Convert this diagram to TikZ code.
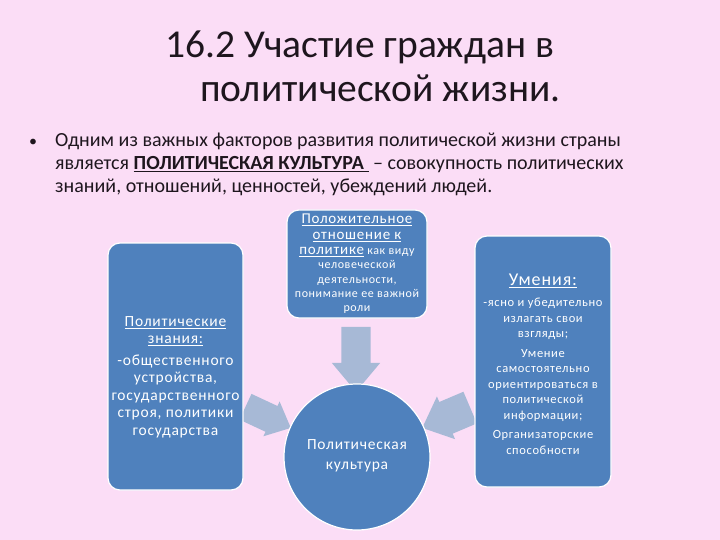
\documentclass[tikz,border=0pt]{standalone}
\usepackage{fontspec}
\setmainfont{Carlito}
\usetikzlibrary{shapes.arrows}
\definecolor{slidepink}{RGB}{251,221,246}
\definecolor{boxblue}{RGB}{79,129,189}
\definecolor{arrowgray}{RGB}{167,185,214}
\definecolor{titleink}{RGB}{30,22,30}
\tikzstyle{bluebox}=[draw=white, line width=1.2pt, fill=boxblue, rounded corners=12pt, inner sep=0pt]
\tikzstyle{boxtext}=[white, align=center, inner sep=0pt]
\tikzstyle{fatarrow}=[single arrow, fill=arrowgray, draw=none, inner xsep=0pt]
\tikzstyle{slideline}=[anchor=base west, inner sep=0pt, titleink]

\begin{document}
\begin{tikzpicture}[x=1pt, y=-1pt]
% Slide
	\fill[slidepink] (0,0) rectangle (720,540);
	\useasboundingbox (0,0) rectangle (720,540);
% Title
	\node[slideline, font=\fontsize{39.5}{44}\selectfont] (title1) at (165,58) {16.2 Участие граждан в};
	\node[slideline, font=\fontsize{39.5}{44}\selectfont] (title2) at (200,102) {политической жизни.};
% Bullet text
	\node[slideline, font=\fontsize{16}{20}\selectfont] (dot) at (29,147) {•};
	\node[slideline, font=\fontsize{20}{23}\selectfont] (line1) at (55,147) {Одним из важных факторов развития политической жизни страны};
	\node[slideline, font=\fontsize{20}{23}\selectfont] (line2) at (55,170) {является \underline{\textbf{ПОЛИТИЧЕСКАЯ КУЛЬТУРА }} – совокупность политических};
	\node[slideline, font=\fontsize{20}{23}\selectfont] (line3) at (55,193) {знаний, отношений, ценностей, убеждений людей.};
% Block arrows
	\node[fatarrow, minimum height=65pt, inner ysep=14.5pt, single arrow head extend=9.5pt, single arrow tip angle=80, rotate=-90] (downarrow) at (356,350.5) {};
	\node[fatarrow, minimum height=50pt, inner ysep=14pt, single arrow head extend=5pt, single arrow tip angle=84, rotate=-25] (leftarrow) at (261,414) {};
	\node[fatarrow, minimum height=52pt, inner ysep=17pt, single arrow head extend=6pt, single arrow tip angle=84, rotate=203] (rightarrow) at (455,414) {};
% Boxes
	\node[bluebox, minimum width=135pt, minimum height=247pt] (knowledge) at (175.5,366.5) {};
	\node[bluebox, minimum width=140pt, minimum height=108pt] (attitude) at (357,264) {};
	\node[bluebox, minimum width=136pt, minimum height=251pt] (skills) at (543,361.5) {};
	\node[circle, draw=white, line width=1.2pt, fill=boxblue, minimum size=146pt, inner sep=0pt] (culture) at (357,457) {};
% Box texts
	\node[boxtext, font=\fontsize{15.5}{17.5}\selectfont\addfontfeature{LetterSpace=5}] (knowledgetext) at (175.5,377)
		{\underline{Политические}\\ \underline{знания:}\\[4pt] -общественного\\ устройства,\\ государственного\\ строя, политики\\ государства};
	\node[boxtext, font=\fontsize{12}{14.3}\selectfont\addfontfeature{LetterSpace=5}] (attitudetext) at (357,264)
		{{\fontsize{15}{18}\selectfont \underline{Положительное}}\\[1pt] {\fontsize{15}{18}\selectfont \underline{отношение к}}\\[1pt] {\fontsize{15}{18}\selectfont \underline{политике}} как виду\\ человеческой\\ деятельности,\\ понимание ее важной\\ роли};
	\node[boxtext, font=\fontsize{12.5}{15.5}\selectfont\addfontfeature{LetterSpace=5}] (skillstext) at (543,364)
		{{\fontsize{18}{20}\selectfont \underline{Умения:}}\\[6pt] -ясно и убедительно\\ излагать свои\\ взгляды;\\[4pt] Умение\\ самостоятельно\\ ориентироваться в\\ политической\\ информации;\\[4pt] Организаторские\\ способности};
	\node[boxtext, font=\fontsize{15.5}{20}\selectfont\addfontfeature{LetterSpace=5}] (culturetext) at (357,456) {Политическая\\ культура};
\end{tikzpicture}
\end{document}
